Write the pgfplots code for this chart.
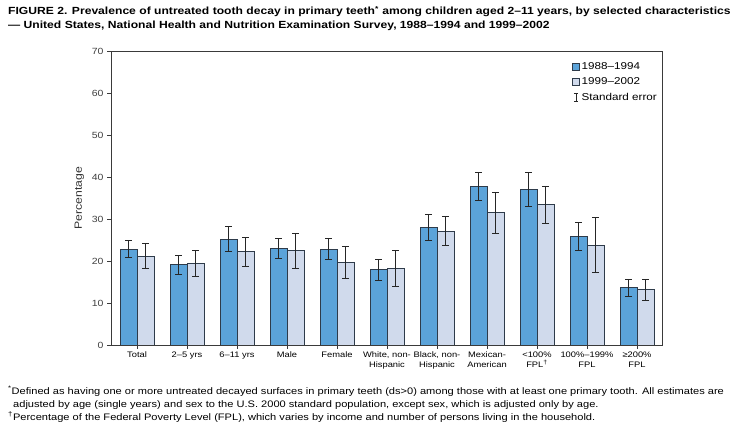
\documentclass[border=0pt]{standalone}
\usepackage{pgfplots}
\pgfplotsset{compat=1.18}
\usepackage{fontspec}
\setmainfont{Liberation Sans}[FakeStretch=1.17]
\definecolor{barblue}{HTML}{5BA3D9}
\definecolor{barlight}{HTML}{D0DAEC}
\definecolor{edge}{HTML}{2E3B4A}
\definecolor{axisgray}{HTML}{3A3A3A}
\begin{document}
\begin{tikzpicture}
\path[use as bounding box] (0,0) rectangle (738bp,436bp);
% title
\node[anchor=north west, inner sep=0pt, font=\fontsize{10.4}{14}\selectfont\bfseries, align=left] at (8bp,430bp)
  {FIGURE 2. Prevalence of untreated tooth decay in primary teeth\textsuperscript{*} among children aged 2–11 years, by selected characteristics\\
   — United States, National Health and Nutrition Examination Survey, 1988–1994 and 1999–2002};
 \begin{axis}[
        at={(111bp,91bp)}, anchor=south west,
        scale only axis,
        width=551bp, height=294bp,
        ymin=0, ymax=70,
        xmin=-0.52, xmax=10.5,
        ytick={0,10,...,70},
        xtick={0,...,10},
        xticklabels={Total,2–5 yrs,6–11 yrs,Male,Female,{White, non-\\Hispanic},{Black, non-\\Hispanic},{Mexican-\\American},{<100\%\\FPL\textsuperscript{†}},{100\%–199\%\\FPL},{≥200\%\\FPL}},
        xticklabel style={align=center, font=\fontsize{8}{10}\selectfont, text=black, yshift=1bp},
        yticklabel style={font=\fontsize{9}{10}\selectfont, text=black!75},
        /pgf/number format/assume math mode=true,
        tick pos=left,
        tick align=outside,
        major tick length=4bp,
        tick style={axisgray, line width=0.6pt},
        axis line style={axisgray, line width=0.7pt},
        ylabel={Percentage},
        ylabel style={font=\fontsize{10.5}{12}\selectfont, text=black!80, yshift=1bp},
        ybar=0pt, bar width=17bp,
        legend style={at={(1.0,0.975)}, anchor=north east, draw=none, fill=none,
          font=\fontsize{10}{12}\selectfont, row sep=3bp, legend cell align=left,
          /tikz/every even column/.append style={column sep=1bp}},
        legend image code/.code={\draw[#1] (0bp,-3.5bp) rectangle (7bp,3.5bp);},
        error bars/y dir=both, error bars/y explicit,
        error bars/error bar style={black!85, line width=0.6pt},
        error bars/error mark options={rotate=90, black!85, mark size=3.5bp, line width=0.6pt},
  ]
  \addplot[fill=barblue, draw=edge, line width=0.6pt] coordinates {
    (0,22.8) += (0,2.1) -= (0,1.9)
    (1,19.2) += (0,2.2) -= (0,2.3)
    (2,25.2) += (0,3.1) -= (0,2.9)
    (3,23.0) += (0,2.3) -= (0,2.4)
    (4,22.8) += (0,2.5) -= (0,2.5)
    (5,18.0) += (0,2.4) -= (0,2.5)
    (6,28.0) += (0,3.1) -= (0,3.1)
    (7,37.8) += (0,3.3) -= (0,3.3)
    (8,37.1) += (0,4.0) -= (0,4.1)
    (9,25.9) += (0,3.3) -= (0,3.3)
    (10,13.7) += (0,1.9) -= (0,2.1)
  };
  \addlegendentry{1988–1994}
  \addplot[fill=barlight, draw=edge, line width=0.6pt] coordinates {
    (0,21.1) += (0,3.1) -= (0,2.9)
    (1,19.4) += (0,3.2) -= (0,3.0)
    (2,22.3) += (0,3.4) -= (0,3.6)
    (3,22.6) += (0,4.0) -= (0,4.3)
    (4,19.7) += (0,3.8) -= (0,3.8)
    (5,18.3) += (0,4.3) -= (0,4.3)
    (6,27.1) += (0,3.6) -= (0,3.4)
    (7,31.6) += (0,4.8) -= (0,5.0)
    (8,33.5) += (0,4.4) -= (0,4.5)
    (9,23.7) += (0,6.7) -= (0,6.4)
    (10,13.3) += (0,2.3) -= (0,2.7)
  };
  \addlegendentry{1999–2002}
  \addlegendimage{legend image code/.code={\draw[black!85, line width=0.6pt] (3.5bp,-4bp)--(3.5bp,4bp) (1.5bp,-4bp)--(5.5bp,-4bp) (1.5bp,4bp)--(5.5bp,4bp);}}
  \addlegendentry{Standard error}
\end{axis}
% footnotes
\node[anchor=north west, inner sep=0pt, font=\fontsize{9.5}{13}\selectfont, align=left] at (8bp,50bp)
  {\textsuperscript{*}Defined as having one or more untreated decayed surfaces in primary teeth (ds>0) among those with at least one primary tooth. All estimates are\\
   \hspace*{5bp}adjusted by age (single years) and sex to the U.S. 2000 standard population, except sex, which is adjusted only by age.\\
   \textsuperscript{†}Percentage of the Federal Poverty Level (FPL), which varies by income and number of persons living in the household.};
\end{tikzpicture}
\end{document}
